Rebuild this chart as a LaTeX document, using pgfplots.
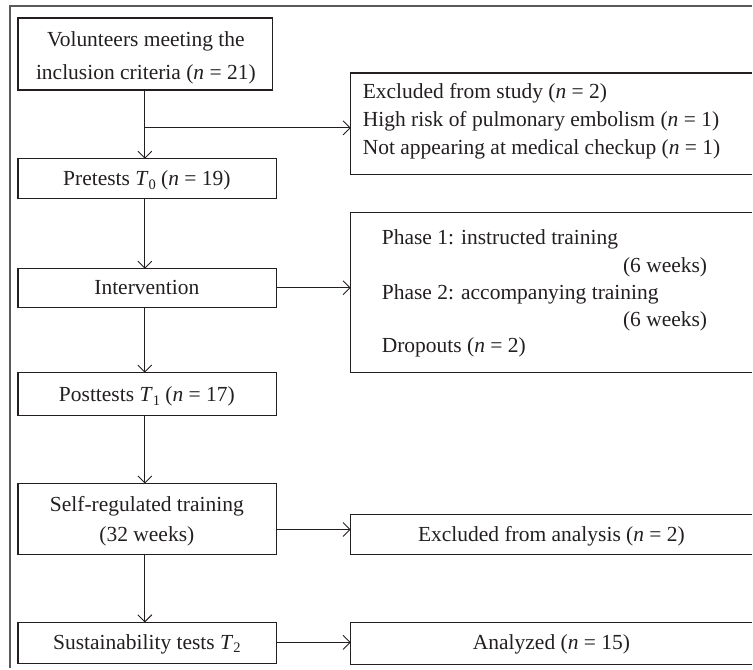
\documentclass[border=0pt]{standalone}
\usepackage{fontspec}
\setmainfont{Liberation Serif}
\usepackage{pgfplots}
\pgfplotsset{compat=1.18}
\usetikzlibrary{arrows.meta}
\definecolor{ink}{HTML}{231F20}
\definecolor{frame}{HTML}{5A5A5A}
\newcommand{\nn}{\textit{n}}
\newcommand{\sub}[1]{\raisebox{-0.35ex}{\fontsize{14.5}{14.5}\selectfont #1}}
\begin{document}
\begin{tikzpicture}
\begin{axis}[
  width=753pt, height=669pt, scale only axis,
  xmin=0, xmax=753, ymin=0, ymax=669, y dir=reverse,
  hide axis, clip=false,
  cycle list={{ink, solid, mark=none}},
  every axis plot/.append style={ink, line width=1.3pt, line cap=rect, mark=none},
  arr/.style={-{Straight Barb[length=7pt,width=14pt,line width=0.9pt]}, line width=0.9pt, line cap=butt},
  nodes={font=\fontsize{21.5}{27}\selectfont, text=ink, inner sep=0pt},
]
\path (axis cs:0,0) rectangle (axis cs:753,669);
% outer frame (left and top)
\addplot[frame, line width=1.5pt, line cap=butt] coordinates {(10,669) (10,6) (753,6)};
% left boxes
\addplot[ink] coordinates {(18,18) (273,18) (273,90) (18,90) (18,18)};
\addplot[ink] coordinates {(18,159) (277,159) (277,199) (18,199) (18,159)};
\addplot[ink] coordinates {(18,269) (277,269) (277,308) (18,308) (18,269)};
\addplot[ink] coordinates {(18,373) (277,373) (277,416) (18,416) (18,373)};
\addplot[ink] coordinates {(18,484) (277,484) (277,555) (18,555) (18,484)};
\addplot[ink] coordinates {(18,623) (277,623) (277,664) (18,664) (18,623)};
% right boxes (open on the right edge)
\addplot[ink, line cap=butt] coordinates {(753,73) (351,73) (351,175) (753,175)};
\addplot[ink, line cap=butt] coordinates {(753,213) (351,213) (351,373) (753,373)};
\addplot[ink, line cap=butt] coordinates {(753,515) (351,515) (351,555) (753,555)};
\addplot[ink, line cap=butt] coordinates {(753,623) (351,623) (351,665) (753,665)};
% arrows
\addplot[arr] coordinates {(145,90) (145,159)};
\addplot[arr] coordinates {(145,128) (351,128)};
\addplot[arr] coordinates {(145,199) (145,269)};
\addplot[arr] coordinates {(277,288) (351,288)};
\addplot[arr] coordinates {(145,308) (145,373)};
\addplot[arr] coordinates {(145,416) (145,484)};
\addplot[arr] coordinates {(277,530) (351,530)};
\addplot[arr] coordinates {(145,555) (145,623)};
\addplot[arr] coordinates {(277,643) (351,643)};
% texts
\node[anchor=base] at (axis cs:146,47) {Volunteers meeting the};
\node[anchor=base] at (axis cs:146,80) {inclusion criteria (\nn{} = 21)};
\node[anchor=base west] at (axis cs:363,99) {Excluded from study (\nn{} = 2)};
\node[anchor=base west] at (axis cs:363,127) {High risk of pulmonary embolism (\nn{} = 1)};
\node[anchor=base west] at (axis cs:363,155) {Not appearing at medical checkup (\nn{} = 1)};
\node[anchor=base] at (axis cs:147,186) {Pretests \textit{T}\sub{0} (\nn{} = 19)};
\node[anchor=base] at (axis cs:147,295) {Intervention};
\node[anchor=base west] at (axis cs:382,245) {Phase 1: instructed training};
\node[anchor=base east] at (axis cs:708,273) {(6 weeks)};
\node[anchor=base west] at (axis cs:382,300) {Phase 2: accompanying training};
\node[anchor=base east] at (axis cs:708,327) {(6 weeks)};
\node[anchor=base west] at (axis cs:382,353) {Dropouts (\nn{} = 2)};
\node[anchor=base] at (axis cs:147,402) {Posttests \textit{T}\sub{1} (\nn{} = 17)};
\node[anchor=base] at (axis cs:147,512) {Self-regulated training};
\node[anchor=base] at (axis cs:147,542) {(32 weeks)};
\node[anchor=base] at (axis cs:552,542) {Excluded from analysis (\nn{} = 2)};
\node[anchor=base] at (axis cs:147,650) {Sustainability tests \textit{T}\sub{2}};
\node[anchor=base] at (axis cs:552,650) {Analyzed (\nn{} = 15)};
\end{axis}
\end{tikzpicture}
\end{document}
